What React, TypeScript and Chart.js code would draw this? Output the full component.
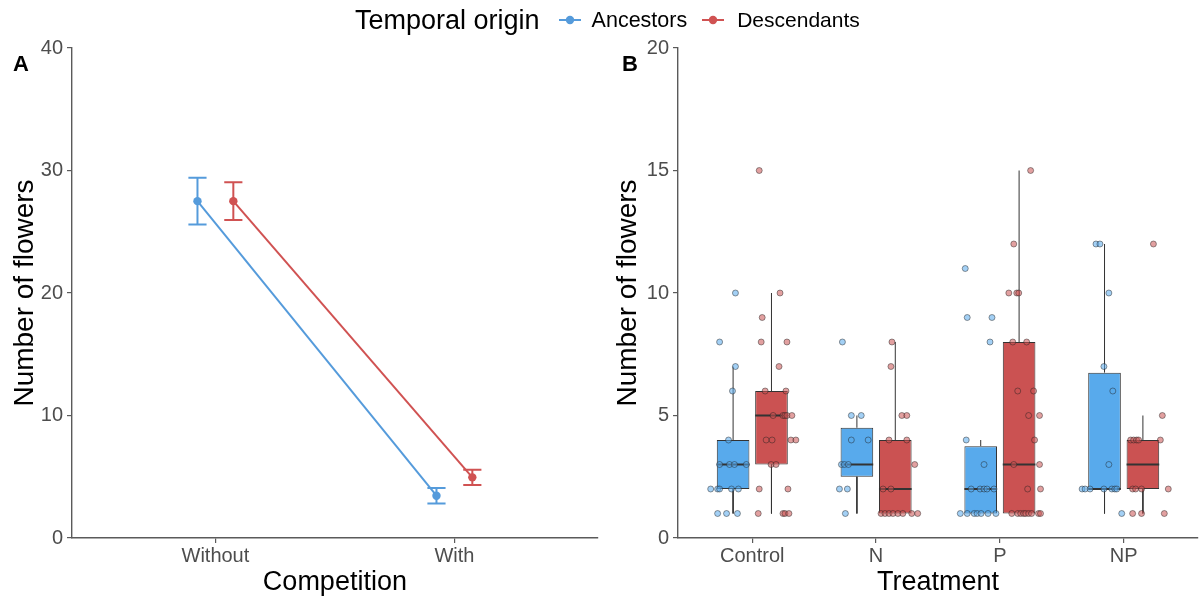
import React, { useEffect, useRef } from "react";
import { Chart, registerables } from "chart.js";
Chart.register(...registerables);

// ---------- Panel A data ----------
const ORIGINS = ["Ancestors", "Descendants"];
const COMPETITION = ["Without", "With"];
const ANC_MEAN = [27.5, 3.45];
const ANC_SE = [1.9, 0.63];
const DES_MEAN = [27.5, 4.95];
const DES_SE = [1.55, 0.62];

// ---------- Panel B data ----------
const TREATMENTS = ["Control", "N", "P", "NP"];
const ANC_VALUES = [
  [10, 8, 7, 6, 4, 3, 3, 3, 3, 2, 2, 2, 2, 2, 1, 1, 1],
  [8, 5, 5, 4, 4, 3, 3, 3, 2, 2, 1],
  [11, 9, 9, 8, 4, 3, 2, 2, 2, 2, 2, 1, 1, 1, 1, 1, 1, 1],
  [12, 12, 10, 7, 6, 3, 2, 2, 2, 2, 2, 2, 2, 1],
];
// horizontal jitter of each observation (category units, relative to the category centre)
const ANC_JITTER = [
  [-0.136, -0.264, -0.136, -0.16, -0.192, -0.264, -0.184, -0.144, -0.048, -0.336, -0.28, -0.264, -0.168, -0.112, -0.28, -0.208, -0.12],
  [-0.272, -0.2, -0.12, -0.2, -0.064, -0.28, -0.256, -0.224, -0.296, -0.232, -0.248],
  [-0.28, -0.264, -0.064, -0.08, -0.272, -0.128, -0.232, -0.16, -0.128, -0.104, -0.048, -0.32, -0.264, -0.208, -0.184, -0.152, -0.096, -0.032],
  [-0.224, -0.192, -0.12, -0.16, -0.088, -0.12, -0.336, -0.312, -0.272, -0.16, -0.096, -0.072, -0.056, -0.016],
];
const DES_VALUES = [
  [15, 10, 9, 8, 8, 7, 6, 6, 5, 5, 5, 5, 5, 4, 4, 4, 4, 3, 3, 2, 2, 1, 1, 1, 1],
  [8, 7, 5, 5, 4, 4, 3, 2, 2, 1, 1, 1, 1, 1, 1, 1, 1],
  [15, 12, 10, 10, 10, 8, 8, 6, 6, 5, 5, 4, 3, 3, 2, 2, 1, 1, 1, 1, 1, 1, 1, 1, 1],
  [12, 5, 4, 4, 4, 4, 4, 2, 2, 2, 2, 1, 1, 1],
];
const DES_JITTER = [
  [0.056, 0.224, 0.08, 0.072, 0.28, 0.216, 0.104, 0.272, 0.168, 0.248, 0.264, 0.28, 0.32, 0.112, 0.16, 0.312, 0.352, 0.152, 0.192, 0.056, 0.288, 0.048, 0.248, 0.264, 0.296],
  [0.128, 0.12, 0.208, 0.248, 0.104, 0.248, 0.312, 0.056, 0.12, 0.04, 0.072, 0.104, 0.136, 0.176, 0.216, 0.288, 0.336],
  [0.248, 0.112, 0.072, 0.136, 0.152, 0.104, 0.216, 0.144, 0.272, 0.232, 0.32, 0.28, 0.112, 0.32, 0.224, 0.328, 0.096, 0.144, 0.168, 0.192, 0.208, 0.232, 0.256, 0.312, 0.328],
  [0.24, 0.312, 0.056, 0.08, 0.104, 0.12, 0.296, 0.072, 0.096, 0.144, 0.36, 0.072, 0.144, 0.328],
];

// ---------- styling ----------
const FONT = "'Liberation Sans', Arial, sans-serif";
const BLUE = "#559BDB";
const RED = "#D05252";
const BOX_BLUE = "#58AAEC";
const BOX_RED = "#CB5252";
const PT_BLUE = "rgba(88,170,236,0.55)";
const PT_RED = "rgba(203,82,82,0.55)";
const AXIS = "#5a5a5a";
const TICK_TXT = "#4D4D4D";
const DODGE_A = 0.075;
const CAP_A = 0.038;
const CAT_PCT = 0.62;
const BAR_PCT = 0.85;

function quantile(sorted: number[], p: number) {
  const pos = (sorted.length - 1) * p;
  const lo = Math.floor(pos);
  const hi = Math.ceil(pos);
  return sorted[lo] + (sorted[hi] - sorted[lo]) * (pos - lo);
}
function boxStats(vals: number[]) {
  const s = [...vals].sort((a, b) => a - b);
  const q1 = quantile(s, 0.25);
  const med = quantile(s, 0.5);
  const q3 = quantile(s, 0.75);
  const iqr = q3 - q1;
  const lo = Math.min(...s.filter((v) => v >= q1 - 1.5 * iqr));
  const hi = Math.max(...s.filter((v) => v <= q3 + 1.5 * iqr));
  return { q1, med, q3, lo, hi };
}

function errorBarData(means: number[], se: number[], shift: number) {
  const out: any[] = [];
  means.forEach((m, i) => {
    const x = i + 1 + shift;
    out.push({ x, y: m - se[i] }, { x, y: m + se[i] }, { x, y: null });
    out.push({ x: x - CAP_A, y: m + se[i] }, { x: x + CAP_A, y: m + se[i] }, { x, y: null });
    out.push({ x: x - CAP_A, y: m - se[i] }, { x: x + CAP_A, y: m - se[i] }, { x, y: null });
  });
  return out;
}

function baseScales(xLabels: string[], xMin: number, xMax: number, xTitle: string, yMax: number, yStep: number, yWidth: number) {
  return {
    x: {
      type: "linear" as const,
      min: xMin,
      max: xMax,
      offset: false,
      afterBuildTicks: (s: any) => {
        s.ticks = xLabels.map((_, i) => ({ value: i + 1 }));
      },
      afterFit: (s: any) => {
        s.height = 58;
      },
      ticks: {
        callback: (v: any) => xLabels[Math.round(Number(v)) - 1] ?? "",
        font: { family: FONT, size: 20 },
        color: TICK_TXT,
        padding: 1,
        autoSkip: false,
        maxRotation: 0,
      },
      grid: { display: true, offset: false, drawOnChartArea: false, drawTicks: true, tickLength: 5, color: AXIS, lineWidth: 1.2 },
      border: { display: true, color: AXIS, width: 1.4 },
      title: { display: true, text: xTitle, font: { family: FONT, size: 27 }, color: "#000", padding: { top: 0, bottom: -3 } },
    },
    y: {
      type: "linear" as const,
      min: 0,
      max: yMax,
      afterFit: (s: any) => {
        s.width = yWidth;
      },
      ticks: { stepSize: yStep, font: { family: FONT, size: 20 }, color: TICK_TXT, padding: 4 },
      grid: { display: true, drawOnChartArea: false, drawTicks: true, tickLength: 5, color: AXIS, lineWidth: 1.2 },
      border: { display: true, color: AXIS, width: 1.4 },
      title: { display: true, text: "Number of flowers", font: { family: FONT, size: 28 }, color: "#000", padding: { top: 8, bottom: 0 } },
    },
  };
}

function PanelA() {
  const ref = useRef<HTMLCanvasElement>(null);
  useEffect(() => {
    if (!ref.current) return;
    const lineDs = (label: string, means: number[], shift: number, color: string) => ({
      type: "line" as const,
      label,
      data: means.map((m, i) => ({ x: i + 1 + shift, y: m })),
      borderColor: color,
      backgroundColor: color,
      borderWidth: 2,
      pointRadius: 4.2,
      pointBorderWidth: 0,
      pointBackgroundColor: color,
      order: 0,
    });
    const errDs = (label: string, means: number[], se: number[], shift: number, color: string) => ({
      type: "line" as const,
      label,
      data: errorBarData(means, se, shift),
      borderColor: color,
      borderWidth: 2,
      pointRadius: 0,
      spanGaps: false,
      order: 1,
    });
    const chart = new Chart(ref.current, {
      type: "line",
      data: {
        datasets: [
          errDs(ORIGINS[0] + " SE", ANC_MEAN, ANC_SE, -DODGE_A, BLUE),
          errDs(ORIGINS[1] + " SE", DES_MEAN, DES_SE, DODGE_A, RED),
          lineDs(ORIGINS[0], ANC_MEAN, -DODGE_A, BLUE),
          lineDs(ORIGINS[1], DES_MEAN, DODGE_A, RED),
        ],
      },
      options: {
        animation: false,
        responsive: false,
        devicePixelRatio: 1,
        layout: { padding: { top: 48, right: 1, bottom: 0, left: 0 } },
        plugins: { legend: { display: false }, tooltip: { enabled: false } },
        scales: baseScales(COMPETITION, 0.4, 2.6, "Competition", 40, 10, 72) as any,
      },
    });
    return () => chart.destroy();
  }, []);
  return <canvas ref={ref} width={602} height={596} style={{ position: "absolute", left: 0, top: 0 }} />;
}

function PanelB() {
  const ref = useRef<HTMLCanvasElement>(null);
  useEffect(() => {
    if (!ref.current) return;
    const offset = CAT_PCT / 4;
    const half = (CAT_PCT * BAR_PCT) / 4;
    const groups = [
      { label: ORIGINS[0], values: ANC_VALUES, jitter: ANC_JITTER, shift: -offset, box: BOX_BLUE, pt: PT_BLUE },
      { label: ORIGINS[1], values: DES_VALUES, jitter: DES_JITTER, shift: offset, box: BOX_RED, pt: PT_RED },
    ];
    const datasets: any[] = [];
    groups.forEach((g) => {
      const stats = g.values.map(boxStats);
      datasets.push({
        type: "bar",
        label: g.label + " box",
        data: stats.map((s, i) => ({ x: i + 1, y: [s.q1, s.q3] })),
        backgroundColor: g.box,
        borderColor: "#333333",
        borderWidth: 1,
        borderSkipped: false,
        categoryPercentage: CAT_PCT,
        barPercentage: BAR_PCT,
        order: 4,
      });
      const whisk: any[] = [];
      const med: any[] = [];
      stats.forEach((s, i) => {
        const x = i + 1 + g.shift;
        whisk.push({ x, y: s.q3 }, { x, y: s.hi }, { x, y: null }, { x, y: s.q1 }, { x, y: s.lo }, { x, y: null });
        med.push({ x: x - half, y: s.med }, { x: x + half, y: s.med }, { x, y: null });
      });
      datasets.push({
        type: "line",
        label: g.label + " whiskers",
        data: whisk,
        borderColor: "#333333",
        borderWidth: 1,
        pointRadius: 0,
        spanGaps: false,
        order: 5,
      });
      datasets.push({
        type: "line",
        label: g.label + " median",
        data: med,
        borderColor: "#333333",
        borderWidth: 2.2,
        pointRadius: 0,
        spanGaps: false,
        order: 2,
      });
      const pts: any[] = [];
      g.values.forEach((vals, i) => {
        vals.forEach((v, j) => pts.push({ x: i + 1 + g.jitter[i][j], y: v }));
      });
      datasets.push({
        type: "line",
        label: g.label + " points",
        data: pts,
        showLine: false,
        pointRadius: 3,
        pointBorderWidth: 1,
        pointBackgroundColor: g.pt,
        pointBorderColor: "rgba(30,30,30,0.45)",
        order: 1,
      });
    });
    const chart = new Chart(ref.current, {
      type: "bar",
      data: { datasets },
      options: {
        animation: false,
        responsive: false,
        devicePixelRatio: 1,
        layout: { padding: { top: 48, right: 0, bottom: 0, left: 0 } },
        plugins: { legend: { display: false }, tooltip: { enabled: false } },
        scales: baseScales(TREATMENTS, 0.4, 4.6, "Treatment", 20, 5, 75) as any,
      },
    });
    return () => chart.destroy();
  }, []);
  return <canvas ref={ref} width={600} height={596} style={{ position: "absolute", left: 603, top: 0 }} />;
}

function Marker({ color }: { color: string }) {
  return (
    <svg width={22} height={12} style={{ display: "block" }}>
      <line x1={0} y1={6} x2={22} y2={6} stroke={color} strokeWidth={2} />
      <circle cx={11} cy={6} r={4.2} fill={color} />
    </svg>
  );
}

export default function App() {
  useEffect(() => {
    document.body.style.margin = "0";
  }, []);
  return (
    <div style={{ position: "absolute", left: 0, top: 0, width: 1203, height: 596, background: "#fff", overflow: "hidden", fontFamily: FONT }}>
      <PanelA />
      <PanelB />
      <div style={{ position: "absolute", left: 355, top: 4, height: 32, display: "flex", alignItems: "center", whiteSpace: "nowrap" }}>
        <span style={{ fontSize: 27, color: "#000" }}>Temporal origin</span>
        <span style={{ marginLeft: 19 }}><Marker color={BLUE} /></span>
        <span style={{ marginLeft: 11, fontSize: 21.5, color: "#000" }}>{ORIGINS[0]}</span>
        <span style={{ marginLeft: 15 }}><Marker color={RED} /></span>
        <span style={{ marginLeft: 13, fontSize: 21, color: "#000" }}>{ORIGINS[1]}</span>
      </div>
      <div style={{ position: "absolute", left: 13, top: 53, fontSize: 22, fontWeight: "bold", lineHeight: 1, color: "#000" }}>A</div>
      <div style={{ position: "absolute", left: 622, top: 53, fontSize: 22, fontWeight: "bold", lineHeight: 1, color: "#000" }}>B</div>
    </div>
  );
}
